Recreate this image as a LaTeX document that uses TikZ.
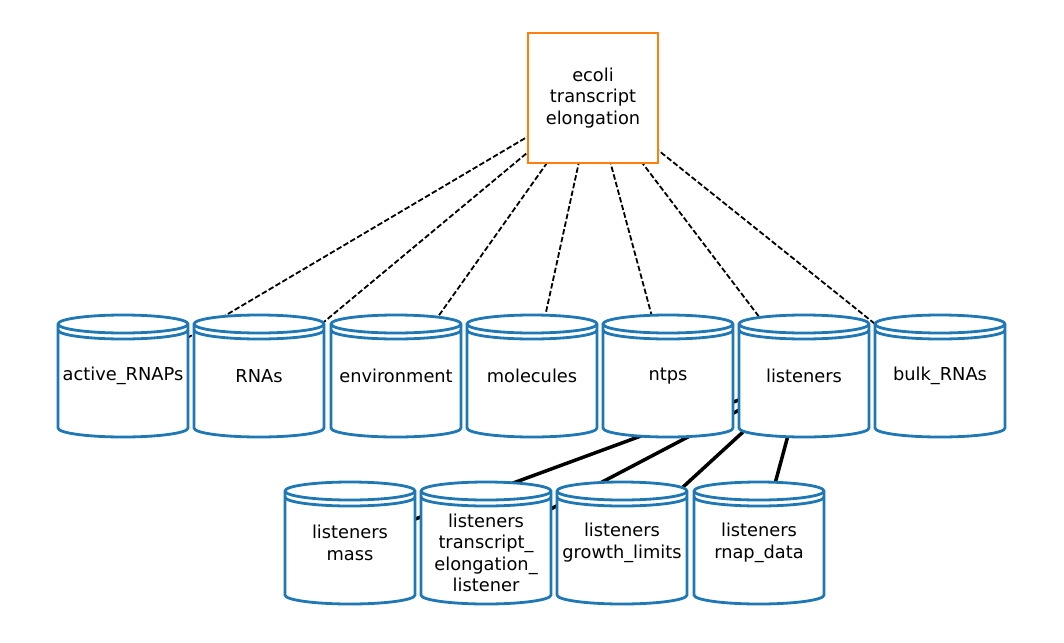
\documentclass[tikz,border=0pt]{standalone}
\usepackage{fontspec}
\setmainfont{DejaVu Sans}
\usepackage{xcolor}
\definecolor{storeblue}{HTML}{1F77B4}
\definecolor{procorange}{HTML}{FF7F0E}
\usepackage{tikz}
\pgfdeclarelayer{edges}
\pgfdeclarelayer{bodies}
\pgfsetlayers{edges,bodies,main}

\begin{document}
\begin{tikzpicture}[x=1pt,y=-1pt,
  lbl/.style={font=\fontsize{17.8}{21.4}\selectfont,align=center,inner sep=0pt},
  store/.style={lbl},
  proc/.style={lbl,draw=procorange,line width=2.8pt,fill=white,minimum size=130pt},
  cyl/.style={draw=storeblue,line width=2.8pt,fill=white},
  wire/.style={line width=1.8pt,dash pattern=on 5.5pt off 2.4pt},
  link/.style={line width=3.5pt}]
\useasboundingbox (0,0) rectangle (1064,642);

% process
\node[proc] (elong) at (593,98) {ecoli\\transcript\\elongation};

% stores, top row
\node[store] (ar)   at (123,376) {active\_RNAPs};
\node[store] (rnas) at (259,376) {RNAs};
\node[store] (env)  at (396,376) {environment};
\node[store] (mol)  at (532,376) {molecules};
\node[store] (ntps) at (668,376) {ntps};
\node[store] (lis)  at (804,376) {listeners};
\node[store] (bulk) at (940,376) {bulk\_RNAs};

% stores, bottom row
\node[store] (lmass)   at (350,543) {listeners\\mass};
\node[store] (ltel)    at (486,553) {listeners\\transcript\_\\elongation\_\\listener};
\node[store] (lgrowth) at (622,543) {listeners\\growth\_limits};
\node[store] (lrnap)   at (759,543) {listeners\\rnap\_data};

% cylinder bodies
\begin{pgfonlayer}{bodies}
\foreach \n/\dy in {ar/0,rnas/0,env/0,mol/0,ntps/0,lis/0,bulk/0,lmass/0,ltel/10,lgrowth/0,lrnap/0}{
  \begin{scope}[shift={([yshift=\dy pt]\n.center)}]
    \filldraw[cyl] (-65,-52) -- (-65,52)
      arc[start angle=180,end angle=360,x radius=65pt,y radius=9pt] -- (65,-52)
      arc[start angle=0,end angle=180,x radius=65pt,y radius=9pt] -- cycle;
    \draw[cyl,fill=none] (-65,-52) arc[start angle=180,end angle=360,x radius=65pt,y radius=9pt]
      (-65,-46) arc[start angle=180,end angle=360,x radius=65pt,y radius=9pt];
  \end{scope}
}
\end{pgfonlayer}

% connectors
\begin{pgfonlayer}{edges}
\foreach \n in {ar,rnas,env,mol,ntps,lis,bulk}
  \draw[wire] (elong.center) -- (\n.center);
\foreach \n in {lmass,lgrowth,lrnap}
  \draw[link] (lis.center) -- (\n.center);
\draw[link] (lis.center) -- ([yshift=10pt]ltel.center);
\end{pgfonlayer}
\end{tikzpicture}
\end{document}
